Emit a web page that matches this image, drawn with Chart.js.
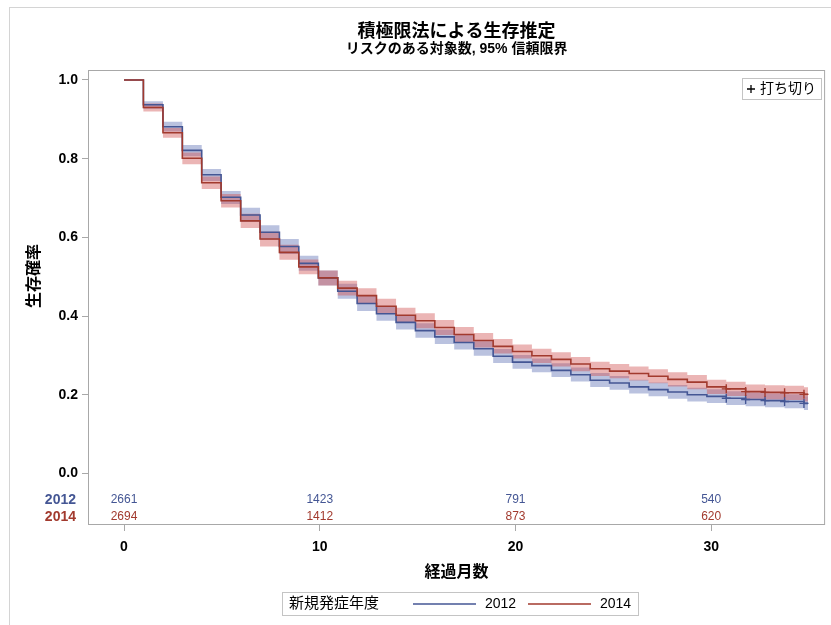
<!DOCTYPE html>
<html lang="ja">
<head>
<meta charset="utf-8">
<title>積極限法による生存推定</title>
<script src="https://cdn.jsdelivr.net/npm/chart.js@4.4.1/dist/chart.umd.min.js"></script>
<style>
  html, body { margin: 0; padding: 0; background: #fff; }
  canvas { display: block; }
</style>
</head>
<body>
<canvas id="km" width="831" height="625"></canvas>
<script>
const months = [0, 0.99, 1.99, 2.98, 3.97, 4.96, 5.96, 6.95, 7.94, 8.93, 9.93, 10.92, 11.91, 12.90,
  13.90, 14.89, 15.88, 16.87, 17.87, 18.86, 19.85, 20.84, 21.84, 22.83, 23.82, 24.81, 25.81,
  26.80, 27.79, 28.78, 29.78, 30.77, 31.76, 32.75, 33.75, 34.74];
const endMonth = 34.95;

const surv2012 = [1, 0.937, 0.881, 0.821, 0.759, 0.702, 0.657, 0.613, 0.577, 0.534, 0.497, 0.463,
  0.432, 0.406, 0.384, 0.363, 0.347, 0.333, 0.317, 0.298, 0.283, 0.274, 0.262, 0.251, 0.237,
  0.230, 0.220, 0.213, 0.207, 0.200, 0.196, 0.191, 0.188, 0.185, 0.183, 0.178];
const lower2012 = [1, 0.927, 0.869, 0.806, 0.743, 0.685, 0.639, 0.594, 0.558, 0.515, 0.478, 0.444,
  0.413, 0.388, 0.366, 0.345, 0.329, 0.315, 0.299, 0.281, 0.266, 0.257, 0.245, 0.234, 0.220,
  0.213, 0.203, 0.196, 0.190, 0.183, 0.179, 0.174, 0.171, 0.168, 0.166, 0.161];
const upper2012 = [1, 0.946, 0.894, 0.835, 0.774, 0.718, 0.675, 0.631, 0.596, 0.553, 0.516, 0.482,
  0.451, 0.425, 0.403, 0.382, 0.366, 0.352, 0.336, 0.316, 0.301, 0.292, 0.280, 0.269, 0.255,
  0.248, 0.238, 0.231, 0.225, 0.218, 0.214, 0.209, 0.206, 0.203, 0.201, 0.196];

const surv2014 = [1, 0.930, 0.866, 0.801, 0.739, 0.693, 0.642, 0.596, 0.562, 0.525, 0.497, 0.471,
  0.452, 0.425, 0.402, 0.388, 0.371, 0.353, 0.338, 0.323, 0.310, 0.299, 0.290, 0.278, 0.266,
  0.260, 0.254, 0.247, 0.239, 0.232, 0.220, 0.215, 0.208, 0.206, 0.205, 0.201];
const lower2014 = [1, 0.920, 0.853, 0.786, 0.723, 0.676, 0.624, 0.577, 0.543, 0.506, 0.478, 0.452,
  0.433, 0.406, 0.383, 0.369, 0.352, 0.334, 0.320, 0.305, 0.292, 0.281, 0.272, 0.260, 0.248,
  0.242, 0.236, 0.229, 0.221, 0.214, 0.202, 0.197, 0.190, 0.188, 0.187, 0.183];
const upper2014 = [1, 0.940, 0.878, 0.816, 0.755, 0.710, 0.660, 0.614, 0.581, 0.544, 0.516, 0.490,
  0.471, 0.444, 0.421, 0.407, 0.390, 0.372, 0.357, 0.342, 0.328, 0.317, 0.308, 0.296, 0.284,
  0.278, 0.272, 0.265, 0.257, 0.250, 0.238, 0.233, 0.226, 0.224, 0.223, 0.219];

// steps that carry a censoring mark
const censorSteps = [31, 32, 33, 34, 35];

const xTicks = [0, 10, 20, 30];
const yTicks = [0, 0.2, 0.4, 0.6, 0.8, 1.0];
const atRisk2012 = [2661, 1423, 791, 540];
const atRisk2014 = [2694, 1412, 873, 620];

const BLUE = '#445694';
const RED = '#A23A2E';
const FONT = '"Liberation Sans", "Noto Sans CJK JP", sans-serif';
const FRAME = '#a8a8a8';

function curve(values) {
  const pts = months.map((t, i) => ({ x: t, y: values[i] }));
  pts.push({ x: endMonth, y: values[values.length - 1] });
  return pts;
}

function censors(values) {
  return censorSteps.map((i) => ({ x: months[i], y: values[i] }));
}

function lineSet(label, values, color, order) {
  return {
    label, data: curve(values), borderColor: color, borderWidth: 1.6,
    pointRadius: 0, stepped: 'before', fill: false, order,
  };
}

function bandSet(values, fillColor, fillTo, order) {
  return {
    data: curve(values), borderWidth: 0, borderColor: 'rgba(0,0,0,0)',
    backgroundColor: fillColor, pointRadius: 0, stepped: 'before', fill: fillTo, order,
  };
}

function censorSet(values, color, order) {
  return {
    type: 'scatter', data: censors(values), showLine: false, pointStyle: 'cross',
    pointRadius: 4.5, borderColor: color, borderWidth: 1.4, order,
  };
}

const decor = {
  id: 'decor',
  beforeDraw(chart) {
    const c = chart.ctx;
    c.save();
    c.fillStyle = '#fff';
    c.fillRect(0, 0, chart.width, chart.height);
    c.strokeStyle = '#d4d4d4';
    c.lineWidth = 1;
    c.strokeRect(9.5, 7.5, chart.width + 20, chart.height + 20);
    c.restore();
  },
  afterDraw(chart) {
    const c = chart.ctx;
    const a = chart.chartArea;
    const xs = chart.scales.x;
    const mid = (a.left + a.right) / 2;
    c.save();

    // frame
    c.strokeStyle = FRAME;
    c.lineWidth = 1;
    c.strokeRect(a.left + 0.5, a.top + 0.5, a.right - a.left - 1, a.bottom - a.top - 1);

    // titles
    c.fillStyle = '#000';
    c.textAlign = 'center';
    c.textBaseline = 'middle';
    c.font = 'bold 18px ' + FONT;
    c.fillText('積極限法による生存推定', mid, 32);
    c.font = 'bold 14px ' + FONT;
    c.fillText('リスクのある対象数, 95% 信頼限界', mid, 49);

    // axis titles
    c.font = 'bold 16px ' + FONT;
    c.fillText('経過月数', mid, 573);
    c.save();
    c.translate(35, 276);
    c.rotate(-Math.PI / 2);
    c.fillText('生存確率', 0, 0);
    c.restore();

    // at-risk table
    const row1 = a.bottom - 25;
    const row2 = a.bottom - 8;
    c.font = '12px ' + FONT;
    xTicks.forEach((t, i) => {
      const px = xs.getPixelForValue(t);
      c.fillStyle = BLUE;
      c.fillText(String(atRisk2012[i]), px, row1);
      c.fillStyle = RED;
      c.fillText(String(atRisk2014[i]), px, row2);
    });
    c.textAlign = 'right';
    c.font = 'bold 14px ' + FONT;
    c.fillStyle = BLUE;
    c.fillText('2012', 76, row1);
    c.fillStyle = RED;
    c.fillText('2014', 76, row2);

    // inset legend for censoring
    c.strokeStyle = '#c4c4c4';
    c.strokeRect(742.5, 78.5, 79, 21);
    c.strokeStyle = '#000';
    c.lineWidth = 1.3;
    c.beginPath();
    c.moveTo(747, 89); c.lineTo(755, 89);
    c.moveTo(751, 85); c.lineTo(751, 93);
    c.stroke();
    c.textAlign = 'left';
    c.fillStyle = '#000';
    c.font = '14px ' + FONT;
    c.fillText('打ち切り', 760, 89);

    // group legend
    const ly = 604;
    c.lineWidth = 1;
    c.strokeStyle = '#c4c4c4';
    c.strokeRect(282.5, 592.5, 356, 23);
    c.font = '15px ' + FONT;
    c.fillText('新規発症年度', 289, ly);
    c.lineWidth = 1.4;
    c.strokeStyle = BLUE;
    c.beginPath(); c.moveTo(413, ly); c.lineTo(476, ly); c.stroke();
    c.strokeStyle = RED;
    c.beginPath(); c.moveTo(528, ly); c.lineTo(591, ly); c.stroke();
    c.font = '14px ' + FONT;
    c.fillText('2012', 485, ly);
    c.fillText('2014', 600, ly);

    c.restore();
  },
};

new Chart(document.getElementById('km'), {
  type: 'line',
  data: {
    datasets: [
      lineSet('2014', surv2014, RED, 0),
      lineSet('2012', surv2012, BLUE, 1),
      censorSet(surv2014, RED, 0),
      censorSet(surv2012, BLUE, 1),
      bandSet(upper2014, 'rgba(207, 79, 79, 0.42)', '+1', 2),
      bandSet(lower2014, 'rgba(0,0,0,0)', false, 2),
      bandSet(upper2012, 'rgba(102, 119, 183, 0.45)', '+1', 3),
      bandSet(lower2012, 'rgba(0,0,0,0)', false, 3),
    ],
  },
  options: {
    responsive: false,
    animation: false,
    layout: { padding: { top: 70, right: 5, left: 0, bottom: 0 } },
    plugins: {
      legend: { display: false },
      tooltip: { enabled: false },
      title: { display: false },
    },
    scales: {
      x: {
        type: 'linear',
        min: -1.84,
        max: 35.82,
        afterBuildTicks: (s) => { s.ticks = xTicks.map((v) => ({ value: v })); },
        afterFit: (s) => { s.height = 100; },
        grid: { drawOnChartArea: false, drawTicks: true, tickLength: 6, color: FRAME },
        border: { display: false },
        ticks: { color: '#000', font: { family: FONT, size: 14, weight: 'bold' }, padding: 8, maxRotation: 0 },
      },
      y: {
        min: -0.131,
        max: 1.0254,
        afterBuildTicks: (s) => { s.ticks = yTicks.map((v) => ({ value: v })); },
        afterFit: (s) => { s.width = 88; },
        grid: { drawOnChartArea: false, drawTicks: true, tickLength: 6, color: FRAME },
        border: { display: false },
        ticks: {
          color: '#000', font: { family: FONT, size: 14, weight: 'bold' }, padding: 4,
          callback: (v) => v.toFixed(1),
        },
      },
    },
  },
  plugins: [decor],
});
</script>
</body>
</html>
